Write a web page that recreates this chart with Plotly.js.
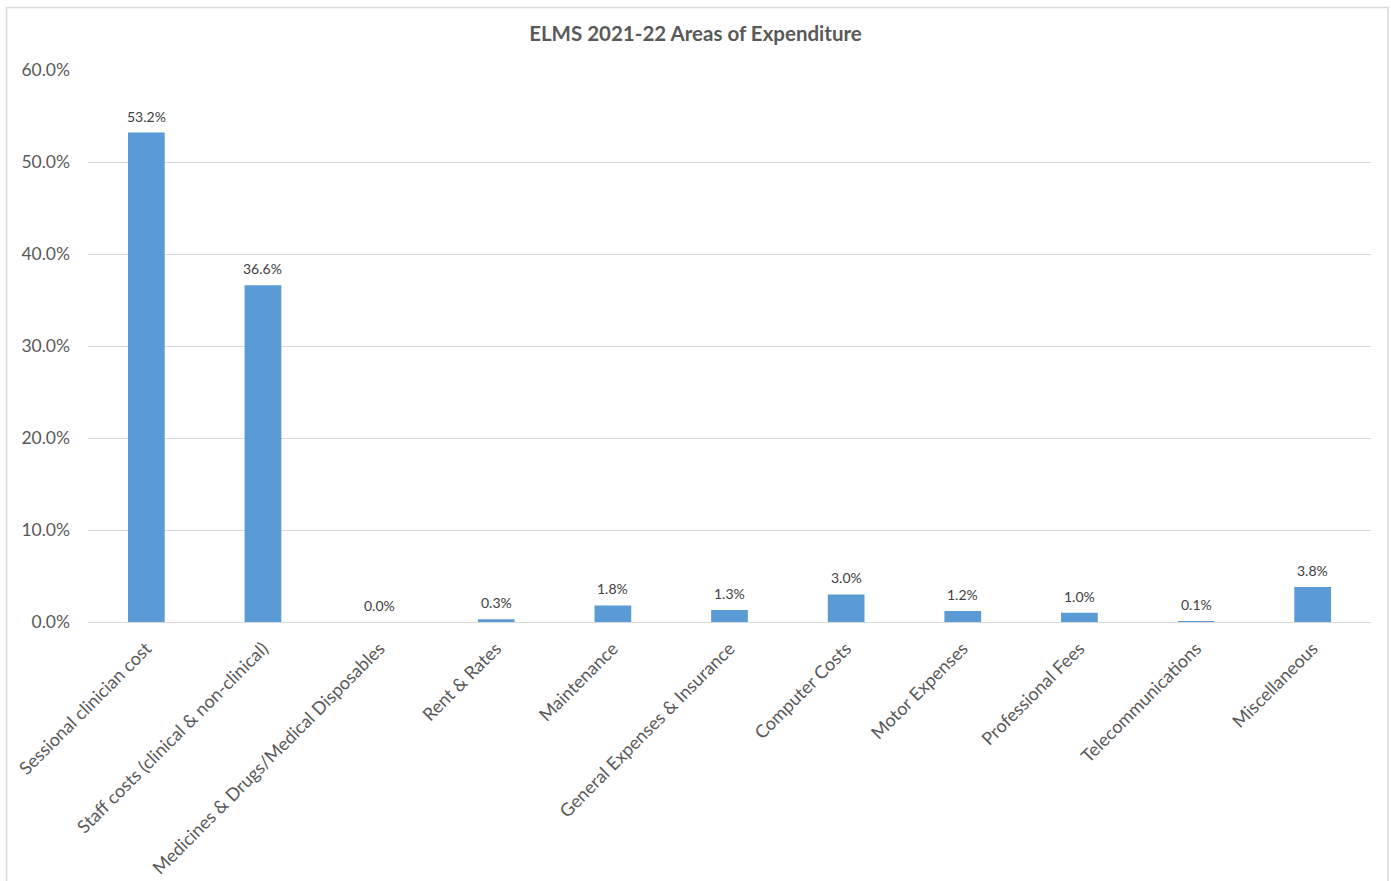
<!DOCTYPE html>
<html>
<head>
<meta charset="utf-8">
<script src="https://cdn.plot.ly/plotly-3.0.1.min.js"></script>
<style>
  html, body { margin: 0; padding: 0; background: #ffffff; }
  #chart { width: 1391px; height: 881px; }
</style>
</head>
<body>
<div id="chart"></div>
<script>
const categories = [
  "Sessional clinician cost",
  "Staff costs (clinical & non-clinical)",
  "Medicines & Drugs/Medical Disposables",
  "Rent & Rates",
  "Maintenance",
  "General Expenses & Insurance",
  "Computer Costs",
  "Motor Expenses",
  "Professional Fees",
  "Telecommunications",
  "Miscellaneous"
];
const expenditurePct = [53.2, 36.6, 0.0, 0.3, 1.8, 1.3, 3.0, 1.2, 1.0, 0.1, 3.8];
const yTickValues = [0, 10, 20, 30, 40, 50, 60];
const chartTitle = "ELMS 2021-22 Areas of Expenditure";

const FONT = "Lato, 'Open Sans', 'Liberation Sans', sans-serif";

const trace = {
  type: "bar",
  x: categories,
  y: expenditurePct,
  marker: { color: "#5b9bd5", line: { width: 0 } },
  hoverinfo: "x+y"
};

const labelAnnotations = categories.map((c, i) => ({
  x: c,
  y: expenditurePct[i],
  xref: "x", yref: "y",
  text: expenditurePct[i].toFixed(1) + "%",
  showarrow: false,
  yanchor: "bottom",
  xanchor: "center",
  yshift: 6,
  font: { family: FONT, size: 14, color: "#404040" }
}));

const layout = {
  width: 1391,
  height: 881,
  margin: { l: 88, r: 20, t: 70, b: 259 },
  paper_bgcolor: "#ffffff",
  plot_bgcolor: "#ffffff",
  bargap: 0.685,
  showlegend: false,
  title: {
    text: "<b>" + chartTitle + "</b>",
    font: { family: FONT, size: 20.5, color: "#595959" },
    x: 0.5, xref: "container", xanchor: "center",
    y: 1 - 34 / 881, yref: "container", yanchor: "middle"
  },
  xaxis: {
    type: "category",
    tickangle: -45,
    tickfont: { family: FONT, size: 18, color: "#595959" },
    showgrid: false,
    showline: true,
    linecolor: "#d9d9d9",
    linewidth: 1,
    ticks: "",
    ticklabelstandoff: 8,
    zeroline: false,
    fixedrange: true
  },
  yaxis: {
    range: [0, 60],
    tickvals: yTickValues,
    ticktext: yTickValues.map(v => v.toFixed(1) + "%"),
    tickfont: { family: FONT, size: 17.5, color: "#595959" },
    showgrid: true,
    gridcolor: "#d9d9d9",
    gridwidth: 1,
    zeroline: false,
    showline: false,
    ticks: "",
    ticklabelstandoff: 17,
    fixedrange: true
  },
  annotations: labelAnnotations,
  shapes: [
    {
      type: "rect",
      xref: "paper", yref: "paper",
      x0: (6.5 - 88) / 1283, x1: (1388 - 88) / 1283,
      y0: -0.6, y1: 1 + (70 - 7.5) / 552,
      line: { color: "#d9d9d9", width: 1.5 },
      fillcolor: "rgba(0,0,0,0)",
      layer: "below"
    }
  ]
};

Plotly.newPlot("chart", [trace], layout, { displayModeBar: false, responsive: false });
</script>
</body>
</html>
